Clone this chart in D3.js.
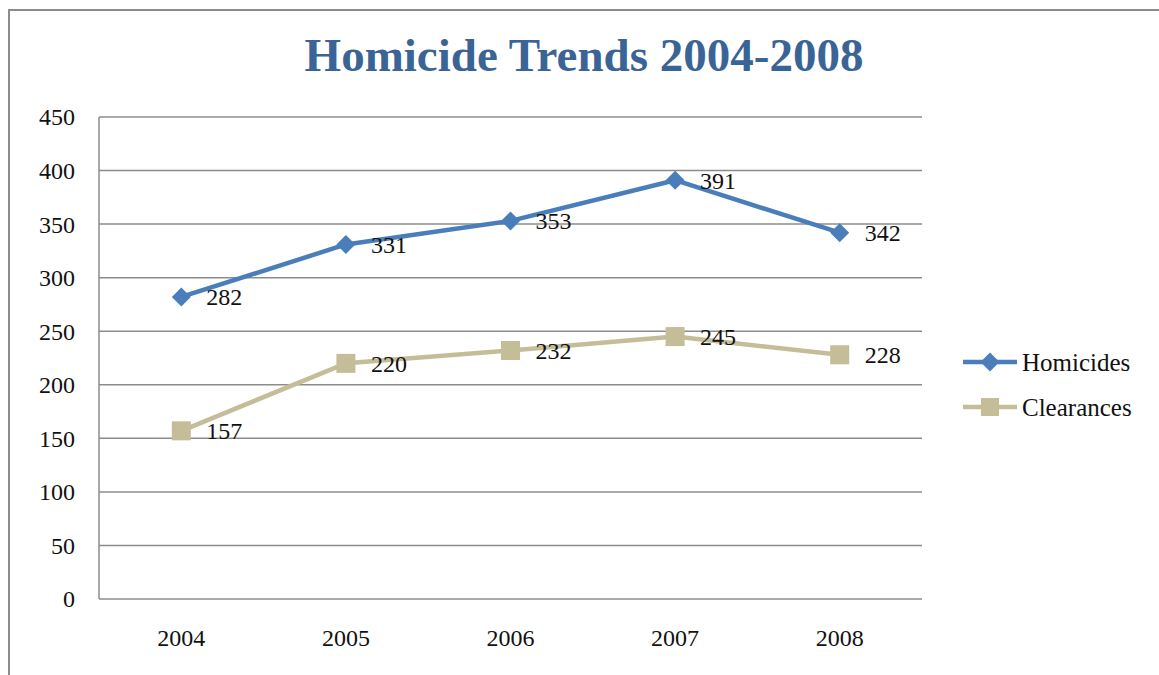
<!DOCTYPE html>
<html><head><meta charset="utf-8">
<script src="https://cdn.jsdelivr.net/npm/d3@7"></script>
<style>body{margin:0;background:#fff}svg{display:block}</style>
</head><body>
<script>
const years = ["2004","2005","2006","2007","2008"];
const homicides = [282,331,353,391,342];
const clearances = [157,220,232,245,228];
const yTicks = [0,50,100,150,200,250,300,350,400,450];
const seriesNames = ["Homicides","Clearances"];
const seriesColors = ["#4a7ebb","#c4bd97"];

const W=1159,H=675;
const svg=d3.select("body").append("svg").attr("width",W).attr("height",H);
const font="'Liberation Serif','DejaVu Serif',serif";
const fs=24;

// outer frame
svg.append("path").attr("d","M9,675 L9,10 L1159,10").attr("fill","none").attr("stroke","#8c8c8c").attr("stroke-width",2);

const m={l:99,t:117,r:922,b:599};
const x=d3.scaleBand().domain(years).range([m.l,m.r]);
const y=d3.scaleLinear().domain([0,450]).range([m.b,m.t]);

// gridlines
svg.append("g").selectAll("line").data(yTicks).join("line")
 .attr("x1",m.l).attr("x2",m.r).attr("y1",d=>y(d)).attr("y2",d=>y(d))
 .attr("stroke","#8c8c8c").attr("stroke-width",1.5);
svg.append("line").attr("x1",m.l).attr("x2",m.l).attr("y1",m.t).attr("y2",m.b).attr("stroke","#8c8c8c").attr("stroke-width",1.5);

// y axis labels
svg.append("g").selectAll("text").data(yTicks).join("text")
 .attr("x",75).attr("y",d=>y(d)).attr("dy","0.35em").attr("text-anchor","end")
 .attr("font-family",font).attr("font-size",fs).attr("fill","#111").text(d=>d);
// x axis labels
svg.append("g").selectAll("text").data(years).join("text")
 .attr("x",d=>x(d)+x.bandwidth()/2).attr("y",638).attr("dy","0.35em").attr("text-anchor","middle")
 .attr("font-family",font).attr("font-size",fs).attr("fill","#111").text(d=>d);

// title
svg.append("text").attr("x",584).attr("y",71).attr("text-anchor","middle")
 .attr("font-family",font).attr("font-weight","bold").attr("font-size",47).attr("fill","#3b6496")
 .text("Homicide Trends 2004-2008");

const cx=d=>x(d)+x.bandwidth()/2;
const line=d3.line().x(d=>cx(d.year)).y(d=>y(d.v));
const data=[homicides,clearances].map(arr=>years.map((yr,i)=>({year:yr,v:arr[i]})));

const diamond=(s)=>`M0,${-s}L${s},0L0,${s}L${-s},0Z`;

data.forEach((pts,si)=>{
  const c=seriesColors[si];
  svg.append("path").datum(pts).attr("d",line).attr("fill","none").attr("stroke",c).attr("stroke-width",4.5).attr("stroke-linejoin","round");
  const g=svg.append("g");
  if(si===0){
    g.selectAll("path").data(pts).join("path").attr("d",diamond(9.5))
     .attr("transform",d=>`translate(${cx(d.year)},${y(d.v)})`).attr("fill",c);
  } else {
    g.selectAll("rect").data(pts).join("rect").attr("x",d=>cx(d.year)-9.5).attr("y",d=>y(d.v)-9.5)
     .attr("width",19).attr("height",19).attr("fill",c);
  }
  svg.append("g").selectAll("text").data(pts).join("text")
   .attr("x",d=>cx(d.year)+25).attr("y",d=>y(d.v)).attr("dy","0.35em")
   .attr("font-family",font).attr("font-size",fs).attr("fill","#111").text(d=>d.v);
});

// legend
seriesNames.forEach((n,i)=>{
  const ly=362+i*45, c=seriesColors[i];
  const g=svg.append("g");
  g.append("line").attr("x1",963).attr("x2",1017).attr("y1",ly).attr("y2",ly).attr("stroke",c).attr("stroke-width",4.5);
  if(i===0) g.append("path").attr("d",diamond(9.5)).attr("transform",`translate(990,${ly})`).attr("fill",c);
  else g.append("rect").attr("x",981).attr("y",ly-9).attr("width",18).attr("height",18).attr("fill",c);
  g.append("text").attr("x",1022).attr("y",ly).attr("dy","0.35em").attr("font-family",font).attr("font-size",fs+1).attr("fill","#111").text(n);
});
</script>
</body></html>
